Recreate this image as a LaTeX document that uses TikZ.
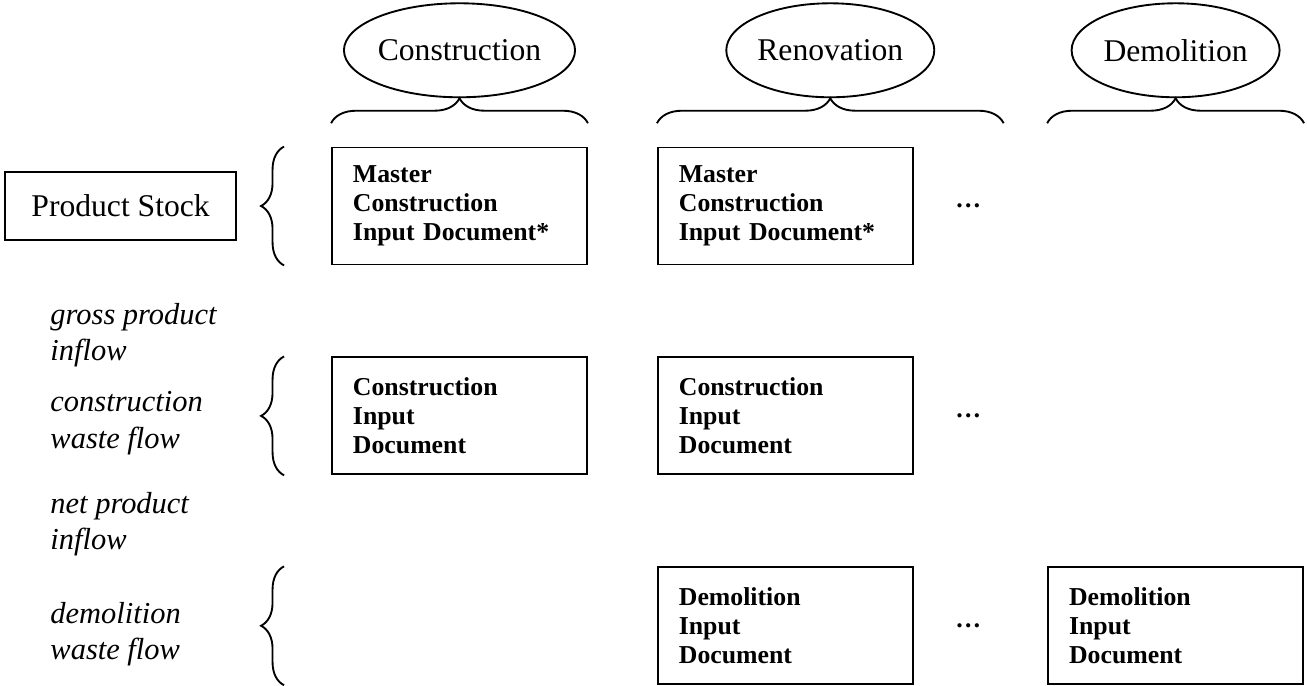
\documentclass[tikz,border=0pt]{standalone}
\usepackage{fontspec}
\setmainfont{Liberation Serif}
\usetikzlibrary{positioning}
\usetikzlibrary{calc}
\usetikzlibrary{shapes.geometric}
\usetikzlibrary{decorations.pathreplacing}

\begin{document}
\begin{tikzpicture}[x=0.015cm,y=0.015cm,
	doc/.style={rectangle,draw=black,line width=0.8pt,minimum width=3.825cm,minimum height=1.755cm,
	text width=3.195cm,inner xsep=0.315cm,align=left,font=\fontsize{11}{12.4}\selectfont\bfseries},
	phase/.style={ellipse,draw=black,line width=0.8pt,minimum width=3.12cm,minimum height=1.41cm,
	inner sep=0pt,font=\fontsize{13.5}{16}\selectfont},
	stockbox/.style={rectangle,draw=black,line width=0.8pt,minimum width=3.465cm,minimum height=1.02cm,
	font=\fontsize{13.5}{16}\selectfont},
	flow/.style={anchor=west,inner sep=0pt,align=left,font=\fontsize{13}{15.5}\selectfont\itshape},
	more/.style={font=\fontsize{11}{12.4}\selectfont\bfseries},
	lbrace/.style={decorate,decoration={brace,amplitude=0.345cm},line width=0.8pt},
	tbrace/.style={decorate,decoration={brace,amplitude=0.375cm},line width=0.8pt}]
	\useasboundingbox (0,0) rectangle (1307,685);

	% document boxes
	\node[doc] (master1) at (459.5,479) {Master\\Construction\\Input Document*};
	\node[doc] (master2) [right=1.035cm of master1] {Master\\Construction\\Input Document*};
	\node[more] (more1) [right=0.5cm of master2] {\dots};
	\node[doc] (cid1) [below=1.365cm of master1] {Construction\\Input\\Document};
	\node[doc] (cid2) [below=1.365cm of master2] {Construction\\Input\\Document};
	\node[more] (more2) [right=0.5cm of cid2] {\dots};
	\node[doc] (did2) [below=1.365cm of cid2] {Demolition\\Input\\Document};
	\node[more] (more3) [right=0.5cm of did2] {\dots};
	\node[doc] (did3) [right=2.0cm of did2] {Demolition\\Input\\Document};

	% left side
	\node[stockbox] (stock) [left=1.41cm of master1] {Product Stock};
	\node[flow] (gross) at (50,350) {gross product\\inflow};
	\node[flow] (cwaste) at (50,262) {construction\\waste flow};
	\node[flow] (net) at (50,161) {net product\\inflow};
	\node[flow] (dwaste) at (50,51) {demolition\\waste flow};

	\coordinate (bx) at ([xshift=-0.705cm]master1.west);
	\draw[lbrace] (bx |- master1.south) -- (bx |- master1.north);
	\draw[lbrace] (bx |- cid1.south) -- (bx |- cid1.north);
	\draw[lbrace] (bx |- did2.south) -- (bx |- did2.north);

	% phases on top
	\draw[tbrace] ($(master1.north west)+(0,0.35cm)$) -- ($(master1.north east)+(0,0.35cm)$);
	\draw[tbrace] ($(master2.north west)+(0,0.35cm)$) -- ($(master2.north west)+(5.2cm,0.35cm)$);
	\draw[tbrace] ($(did3.west |- master1.north)+(0,0.35cm)$) -- ($(did3.east |- master1.north)+(0,0.35cm)$);

	\coordinate (tip1) at ($(master1.north)+(0,0.725cm)$);
	\coordinate (tip2) at ($(master2.north west)+(2.6cm,0.725cm)$);
	\coordinate (tip3) at ($(did3.north |- master1.north)+(0,0.725cm)$);
	\node[phase] (construction) [above=0pt of tip1] {Construction};
	\node[phase] (renovation) [above=0pt of tip2] {Renovation};
	\node[phase] (demolition) [above=0pt of tip3] {Demolition};
\end{tikzpicture}
\end{document}
